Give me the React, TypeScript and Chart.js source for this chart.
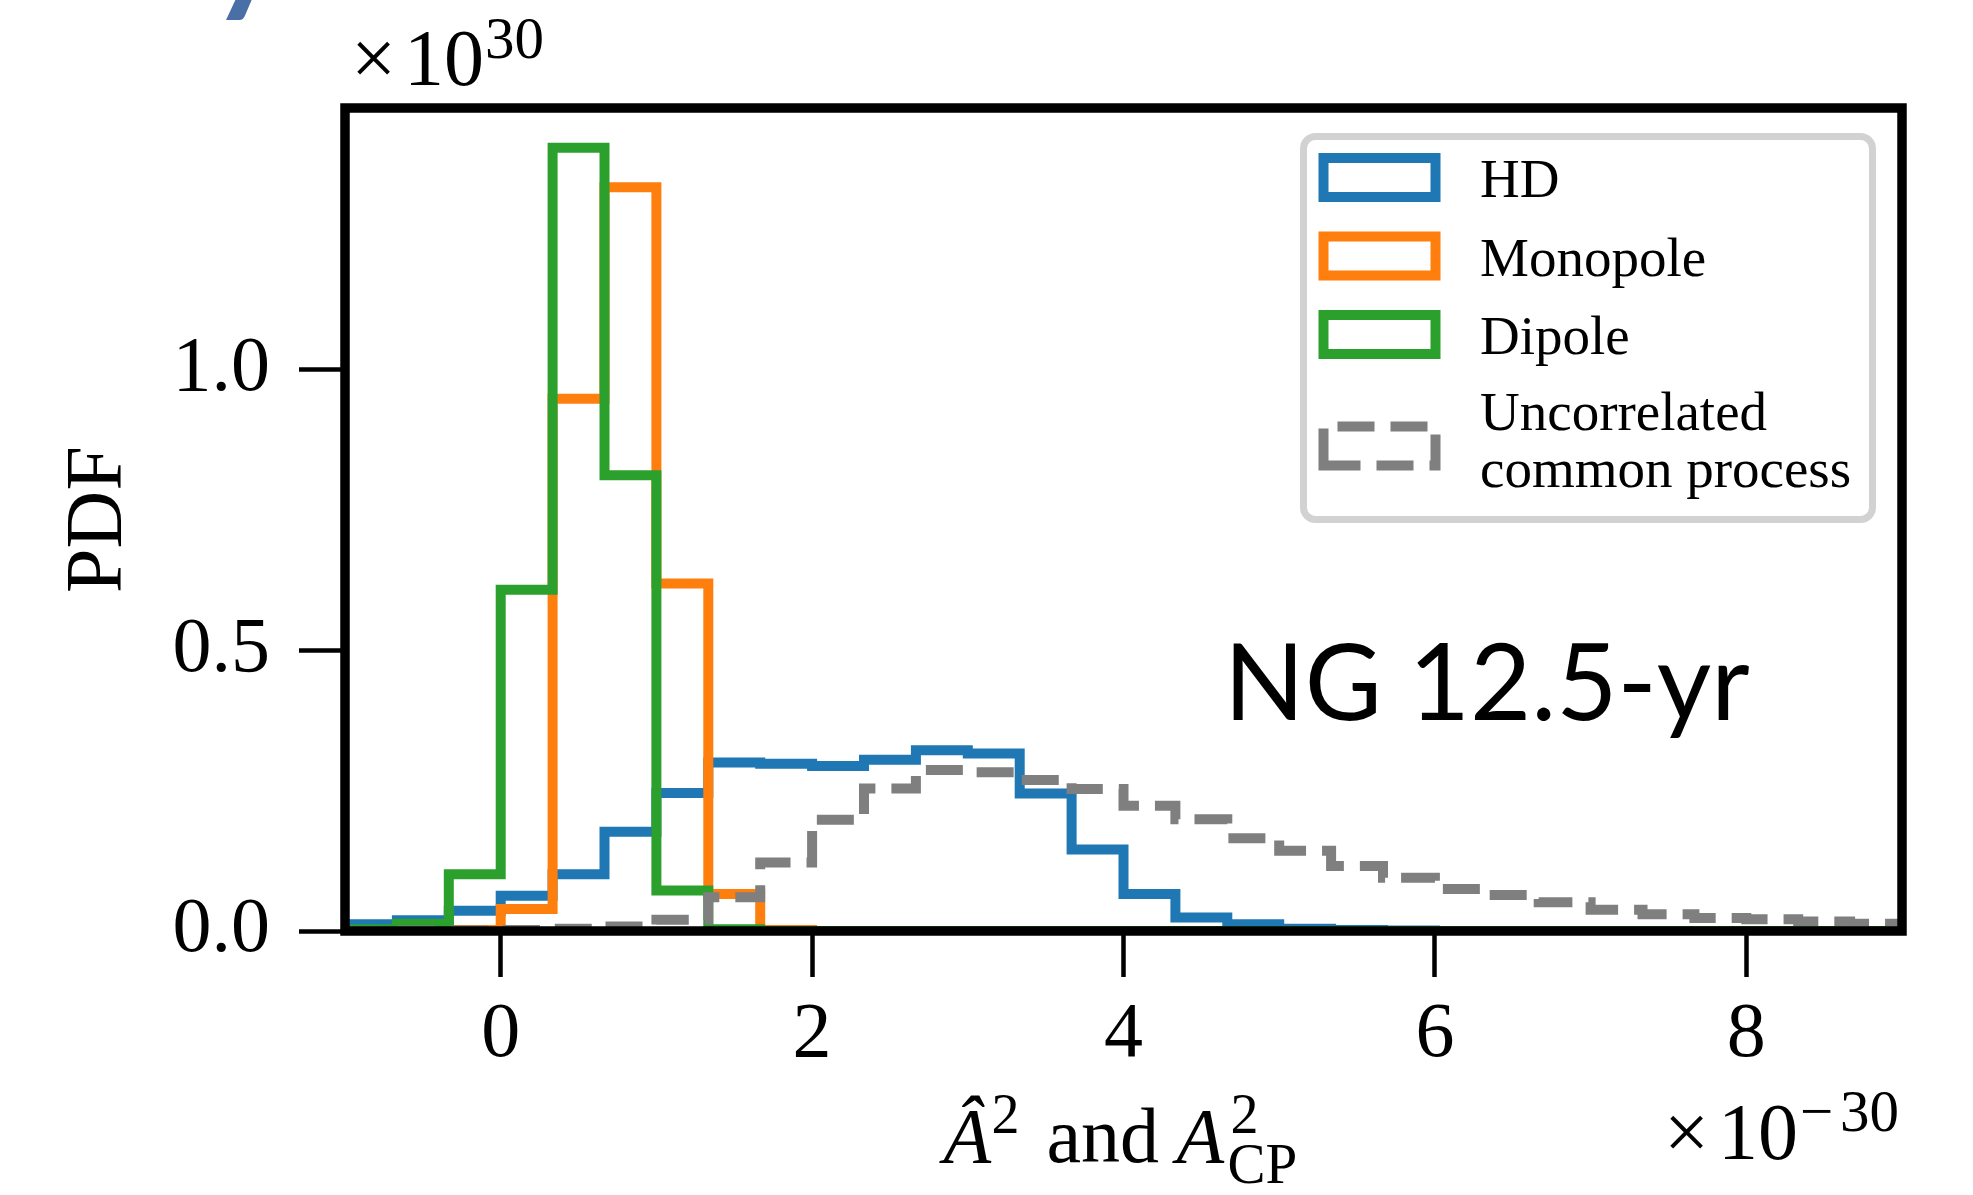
import React, { useEffect, useRef } from 'react';
import { Chart, registerables } from 'chart.js';

Chart.register(...registerables);

// ---------- data ----------
// histogram bin edges (30 bins from -1 to 9, in units of 1e-30)
const BIN_EDGES = [
  -1, -2 / 3, -1 / 3, 0, 1 / 3, 2 / 3, 1, 4 / 3, 5 / 3, 2, 7 / 3, 8 / 3, 3, 10 / 3, 11 / 3, 4,
  13 / 3, 14 / 3, 5, 16 / 3, 17 / 3, 6, 19 / 3, 20 / 3, 7, 22 / 3, 23 / 3, 8, 25 / 3, 26 / 3, 9,
];

// PDF values per bin (units of 1e30)
const HD_PDF = [
  0.012, 0.019, 0.036, 0.063, 0.101, 0.177, 0.246, 0.300, 0.298, 0.294,
  0.305, 0.322, 0.316, 0.245, 0.145, 0.066, 0.024, 0.012, 0.004, 0.002,
  0.001, 0, 0, 0, 0, 0, 0, 0, 0, 0,
];
const MONOPOLE_PDF = [
  0, 0, 0.002, 0.039, 0.948, 1.325, 0.619, 0.066, 0.002, 0,
  0, 0, 0, 0, 0, 0, 0, 0, 0, 0,
  0, 0, 0, 0, 0, 0, 0, 0, 0, 0,
];
const DIPOLE_PDF = [
  0.003, 0.013, 0.101, 0.608, 1.395, 0.812, 0.072, 0.003, 0, 0,
  0, 0, 0, 0, 0, 0, 0, 0, 0, 0,
  0, 0, 0, 0, 0, 0, 0, 0, 0, 0,
];
const UCP_PDF = [
  0, 0.001, 0.001, 0.002, 0.004, 0.008, 0.020, 0.060, 0.122, 0.198,
  0.254, 0.287, 0.283, 0.269, 0.253, 0.223, 0.199, 0.165, 0.143, 0.116,
  0.095, 0.075, 0.064, 0.051, 0.038, 0.030, 0.023, 0.021, 0.017, 0.013,
];

const SERIES_LABELS = ['HD', 'Monopole', 'Dipole', 'Uncorrelated common process'];
const LEGEND_LINES = [['HD'], ['Monopole'], ['Dipole'], ['Uncorrelated', 'common process']];
const SERIES_COLORS = ['#1f77b4', '#ff7f0e', '#2ca02c', '#7f7f7f'];

const X_MIN = -1;
const X_MAX = 9;
const Y_MIN = 0;
const Y_MAX = 1.466;
const X_TICKS = [0, 2, 4, 6, 8];
const Y_TICKS = [0, 0.5, 1.0];

const SERIF = '"Liberation Serif", "DejaVu Serif", serif';
const LINE_W = 10;
const DASH = [37, 16];

function stepPoints(values: number[]) {
  const pts: { x: number; y: number }[] = [{ x: BIN_EDGES[0], y: 0 }];
  for (let i = 0; i < values.length; i++) pts.push({ x: BIN_EDGES[i], y: values[i] });
  pts.push({ x: BIN_EDGES[values.length], y: values[values.length - 1] });
  pts.push({ x: BIN_EDGES[values.length], y: 0 });
  return pts;
}

const overlayPlugin = {
  id: 'overlay',
  afterDatasetsDraw(chart: any) {
    const { ctx } = chart;
    const a = chart.chartArea;
    ctx.save();

    // ---- legend ----
    const bx = a.right - 598.5;
    const by = a.top + 28.5;
    const bw = 569;
    const bh = 383;
    const r = 12;
    ctx.beginPath();
    ctx.moveTo(bx + r, by);
    ctx.lineTo(bx + bw - r, by);
    ctx.arcTo(bx + bw, by, bx + bw, by + r, r);
    ctx.lineTo(bx + bw, by + bh - r);
    ctx.arcTo(bx + bw, by + bh, bx + bw - r, by + bh, r);
    ctx.lineTo(bx + r, by + bh);
    ctx.arcTo(bx, by + bh, bx, by + bh - r, r);
    ctx.lineTo(bx, by + r);
    ctx.arcTo(bx, by, bx + r, by, r);
    ctx.closePath();
    ctx.fillStyle = 'rgba(255,255,255,0.9)';
    ctx.fill();
    ctx.lineWidth = 7;
    ctx.strokeStyle = '#d2d2d2';
    ctx.stroke();

    const handleX = a.right - 578.5;
    const handleW = 112;
    const handleH = 39;
    const handleCY = [177.5, 256, 334.5, 446].map((v) => v - 108 + a.top);
    const textX = a.right - 422;
    const baselines = [[197], [276], [354], [430, 487]].map((row) => row.map((v) => v - 108 + a.top));
    ctx.font = `55px ${SERIF}`;
    ctx.textAlign = 'left';
    ctx.textBaseline = 'alphabetic';
    SERIES_LABELS.forEach((_, i) => {
      const cy = handleCY[i];
      ctx.strokeStyle = SERIES_COLORS[i];
      ctx.lineWidth = LINE_W;
      ctx.lineJoin = 'miter';
      ctx.lineCap = 'butt';
      ctx.setLineDash(i === 3 ? DASH : []);
      ctx.beginPath();
      const x0 = handleX, x1 = handleX + handleW, y0 = cy - handleH / 2, y1 = cy + handleH / 2;
      ctx.moveTo(x0, y1);
      ctx.lineTo(x1, y1);
      ctx.lineTo(x1, y0);
      ctx.lineTo(x0, y0);
      ctx.closePath();
      ctx.stroke();
      ctx.setLineDash([]);
      ctx.fillStyle = '#000';
      LEGEND_LINES[i].forEach((line, j) => {
        ctx.fillText(line, textX, baselines[i][j]);
      });
    });

    // ---- spines ----
    ctx.setLineDash([]);
    ctx.strokeStyle = '#000';
    ctx.lineWidth = 9.5;
    ctx.lineJoin = 'miter';
    ctx.strokeRect(a.left, a.top, a.right - a.left, a.bottom - a.top);

    // ---- text annotation ----
    ctx.fillStyle = '#000';
    const ngText = 'NG 12.5-yr';
    ctx.font = '106px Lato, "Open Sans", sans-serif';
    const m = ctx.measureText(ngText);
    const inkW = m.actualBoundingBoxLeft + m.actualBoundingBoxRight;
    const targetLeft = a.left + 888;
    const targetW = 516;
    ctx.save();
    ctx.translate(targetLeft, a.top + 612);
    ctx.scale(targetW / inkW, 1);
    ctx.fillText(ngText, m.actualBoundingBoxLeft, 0);
    ctx.restore();

    ctx.restore();
  },
  afterDraw(chart: any) {
    const { ctx } = chart;
    const a = chart.chartArea;
    ctx.save();
    ctx.fillStyle = '#000';
    ctx.textAlign = 'left';
    ctx.textBaseline = 'alphabetic';

    // y-axis title
    ctx.save();
    ctx.translate(121, (a.top + a.bottom) / 2);
    ctx.rotate(-Math.PI / 2);
    ctx.textAlign = 'center';
    ctx.font = `80px ${SERIF}`;
    ctx.fillText('PDF', 0, 0);
    ctx.restore();

    // x-axis title: Â^2 and A^2_CP
    const cx = (a.left + a.right) / 2;
    const base = a.bottom + 231;
    ctx.font = `italic 78px ${SERIF}`;
    ctx.fillText('\u00C2', cx - 180, base);
    ctx.font = `56px ${SERIF}`;
    ctx.fillText('2', cx - 132, base - 29);
    ctx.font = `78px ${SERIF}`;
    ctx.fillText('and', cx - 77, base);
    ctx.font = `italic 78px ${SERIF}`;
    ctx.fillText('A', cx + 53, base);
    ctx.font = `56px ${SERIF}`;
    ctx.fillText('2', cx + 107, base - 29);
    ctx.font = `57px ${SERIF}`;
    ctx.fillText('CP', cx + 104, base + 21);

    // offset text top-left: ×10^30
    ctx.font = `80px ${SERIF}`;
    ctx.fillText('\u00D7', a.left + 6, a.top - 23);
    ctx.fillText('10', a.left + 59, a.top - 23);
    ctx.font = `59px ${SERIF}`;
    ctx.fillText('30', a.left + 140, a.top - 50);

    // offset text bottom-right: ×10^-30
    const ob = a.bottom + 228;
    ctx.font = `80px ${SERIF}`;
    ctx.fillText('\u00D7', a.right - 238, ob);
    ctx.fillText('10', a.right - 184, ob);
    ctx.font = `59px ${SERIF}`;
    ctx.fillText('\u2212', a.right - 102, ob - 28);
    ctx.fillText('30', a.right - 62, ob - 28);

    // clipped title glyph at the very top
    ctx.fillStyle = '#4a6fa6';
    ctx.font = 'bold 140px Lato, "Open Sans", sans-serif';
    ctx.fillText('y', 210, -3);

    ctx.restore();
  },
};

export default function App() {
  const ref = useRef<HTMLCanvasElement>(null);

  useEffect(() => {
    const canvas = ref.current;
    if (!canvas) return;
    const seriesValues = [HD_PDF, MONOPOLE_PDF, DIPOLE_PDF, UCP_PDF];
    const orders = [4, 3, 2, 1];
    const chart = new Chart(canvas, {
      type: 'line',
      data: {
        datasets: seriesValues.map((vals, i) => ({
          label: SERIES_LABELS[i],
          data: stepPoints(vals),
          borderColor: SERIES_COLORS[i],
          backgroundColor: SERIES_COLORS[i],
          borderWidth: LINE_W,
          borderDash: i === 3 ? DASH : [],
          borderJoinStyle: 'miter',
          borderCapStyle: 'butt',
          stepped: 'before',
          fill: false,
          pointRadius: 0,
          pointHoverRadius: 0,
          tension: 0,
          order: orders[i],
        })),
      },
      options: {
        responsive: false,
        animation: false,
        devicePixelRatio: 1,
        events: [],
        layout: { padding: { top: 108, right: 71, left: 0, bottom: 0 } },
        plugins: {
          legend: { display: false },
          tooltip: { enabled: false },
          title: { display: false },
        },
        scales: {
          x: {
            type: 'linear',
            min: X_MIN,
            max: X_MAX,
            afterBuildTicks: (s: any) => {
              s.ticks = X_TICKS.map((v) => ({ value: v }));
            },
            afterFit: (s: any) => {
              s.height = 264;
            },
            border: { display: false },
            grid: {
              display: true,
              drawOnChartArea: false,
              drawTicks: true,
              tickLength: 46,
              tickWidth: 4.5,
              tickColor: '#000',
              color: '#000',
            },
            ticks: {
              autoSkip: false,
              maxRotation: 0,
              padding: 12,
              color: '#000',
              font: { family: SERIF, size: 78 },
              callback: (v: any) => String(v),
            },
          },
          y: {
            type: 'linear',
            min: Y_MIN,
            max: Y_MAX,
            afterBuildTicks: (s: any) => {
              s.ticks = Y_TICKS.map((v) => ({ value: v }));
            },
            afterFit: (s: any) => {
              s.width = 345;
            },
            border: { display: false },
            grid: {
              display: true,
              drawOnChartArea: false,
              drawTicks: true,
              tickLength: 46,
              tickWidth: 4.5,
              tickColor: '#000',
              color: '#000',
            },
            ticks: {
              autoSkip: false,
              padding: 29,
              color: '#000',
              font: { family: SERIF, size: 78 },
              callback: (v: any) => Number(v).toFixed(1),
            },
          },
        },
      },
      plugins: [overlayPlugin],
    } as any);
    return () => chart.destroy();
  }, []);

  return (
    <div style={{ position: 'absolute', left: 0, top: 0, width: 1973, height: 1195, background: '#fff', overflow: 'hidden' }}>
      <canvas ref={ref} width={1973} height={1195} style={{ display: 'block' }} />
    </div>
  );
}
